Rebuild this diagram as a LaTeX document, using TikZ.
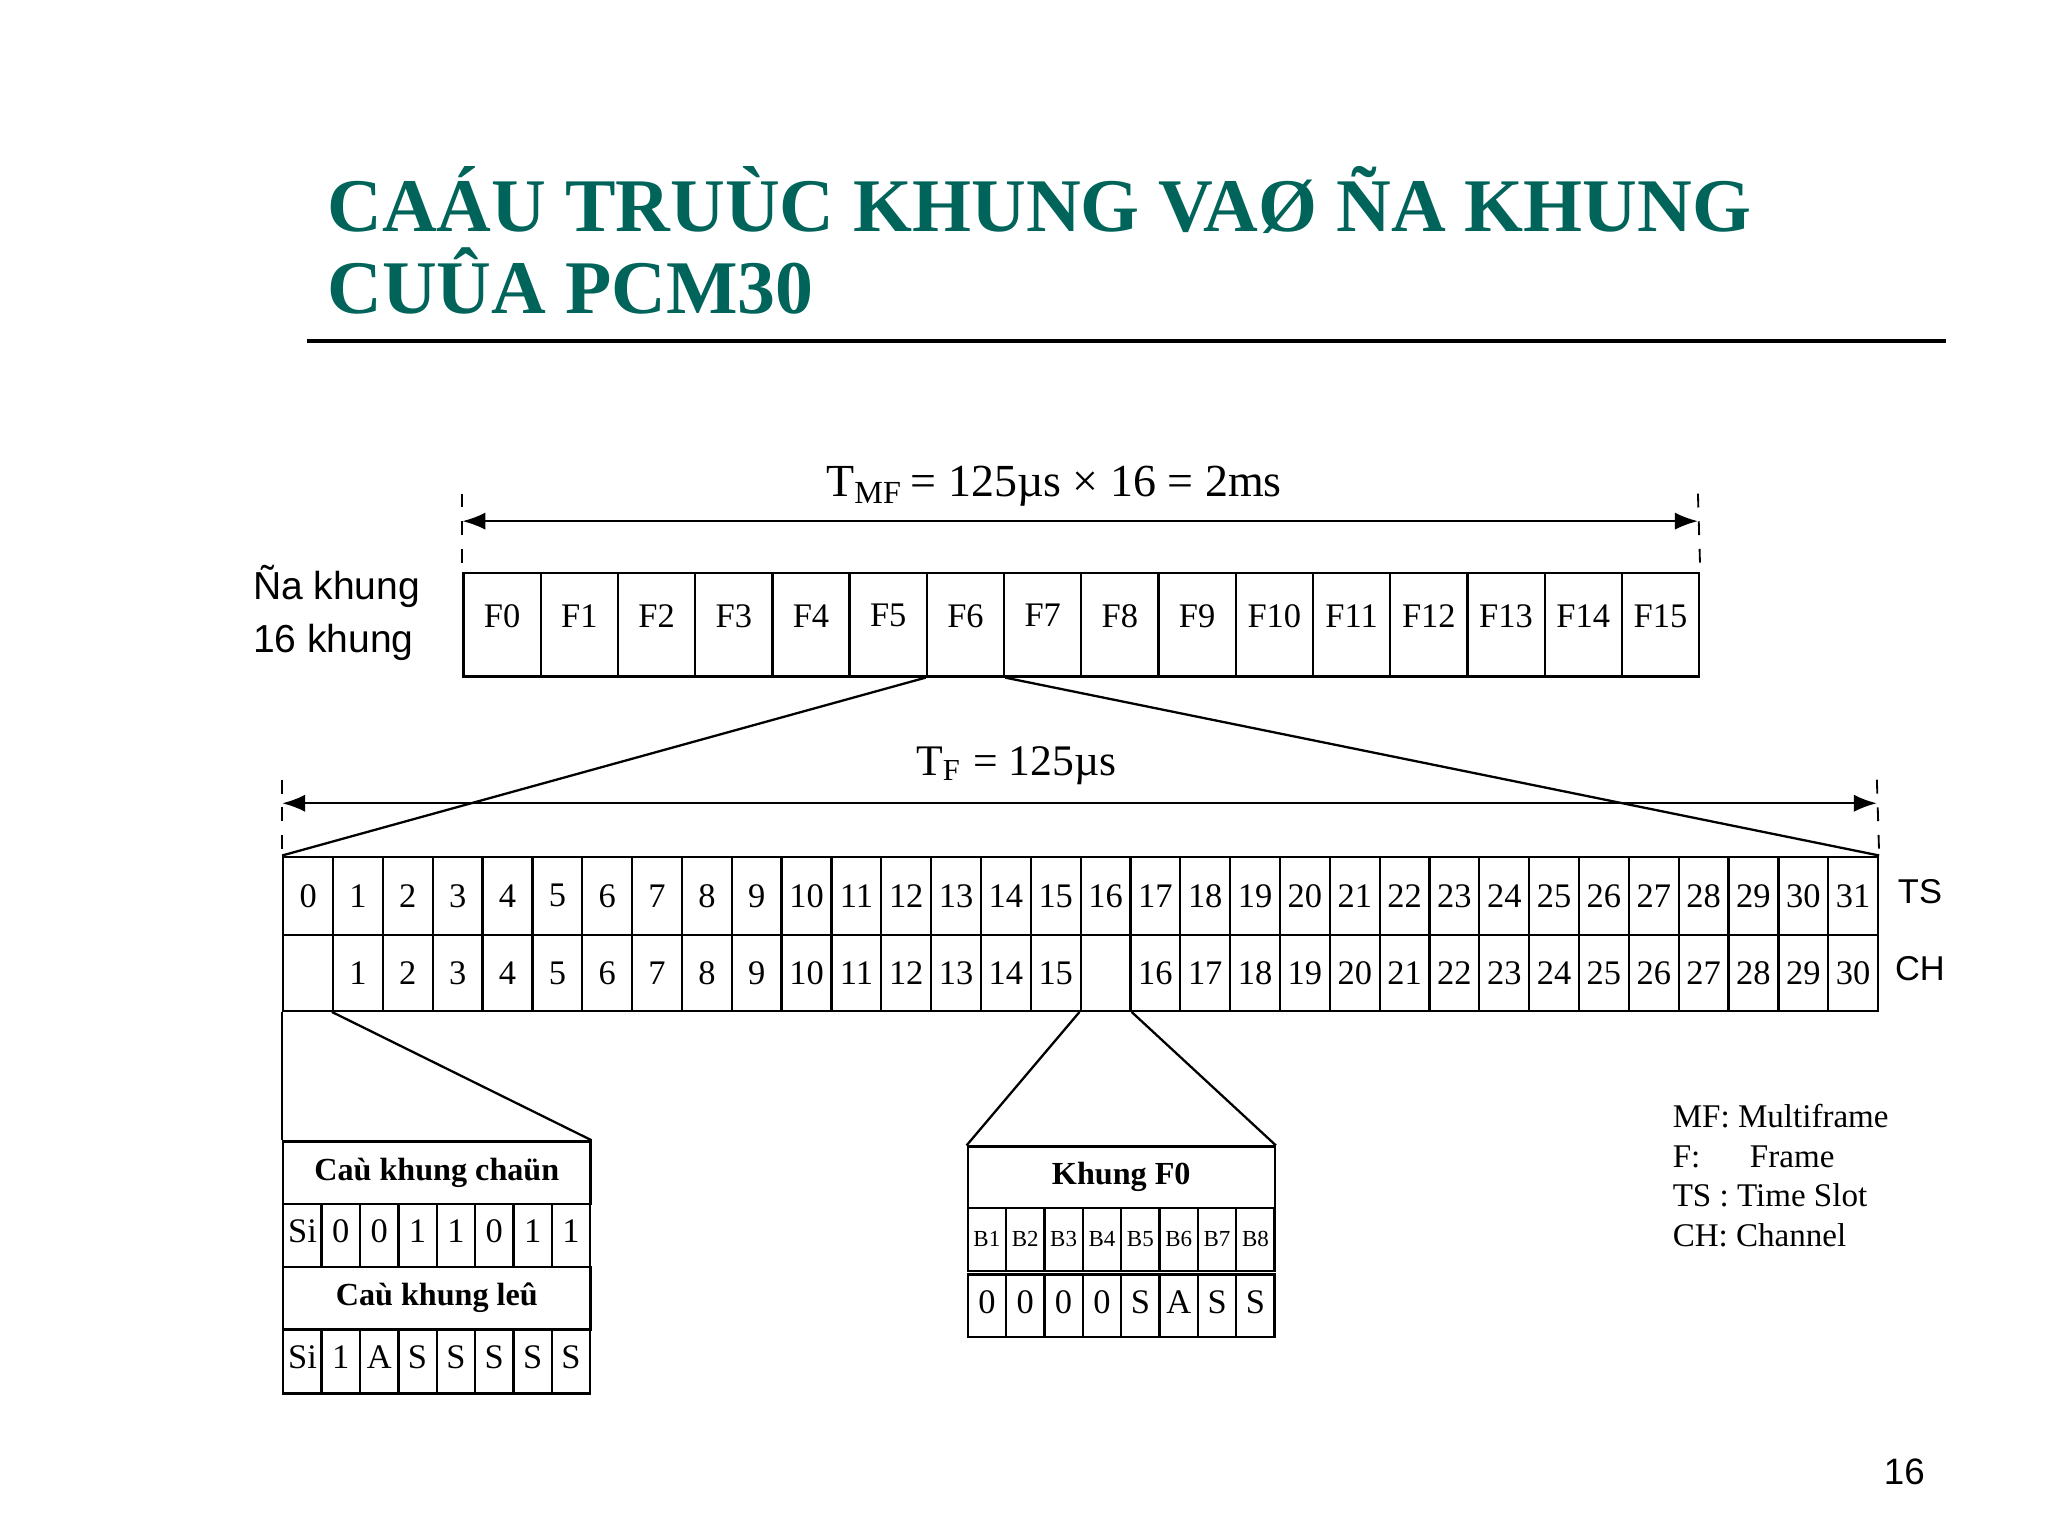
\documentclass[tikz,border=0pt]{standalone}
\usepackage{fontspec}
\setmainfont{Liberation Serif}
\setsansfont{Liberation Sans}
\usetikzlibrary{arrows.meta}
\definecolor{teal1}{RGB}{0,100,90}
\begin{document}
\begin{tikzpicture}[x=0.01cm,y=-0.01cm,
 cell/.style={draw,line width=0.5pt,anchor=north west,inner sep=0pt},
 txt/.style={font=\fontsize{7}{8}\selectfont},
 dim/.style={{Latex[length=5pt]}-{Latex[length=5pt]},line width=0.5pt},
 tick/.style={dashed,line width=0.4pt},
 conn/.style={line width=0.5pt}]
\useasboundingbox (0,0) rectangle (1568,1176);
% title
\node[anchor=west,inner sep=0pt,text=teal1,font=\bfseries\fontsize{16.5}{18}\selectfont] (t1) at (250,153) {CAÁU TRUÙC KHUNG VAØ ÑA KHUNG};
\node[anchor=west,inner sep=0pt,text=teal1,font=\bfseries\fontsize{16.5}{18}\selectfont] (t2) at (250,215) {CUÛA PCM30};
\draw[line width=0.7pt] (235,261) -- (1490,261);
% multiframe
\foreach \i in {0,...,15}{
 \pgfmathsetmacro\xx{354+\i*59.125}
 \node[cell,minimum width=59.125*0.01cm,minimum height=0.79cm,font=\fontsize{7.5}{8}\selectfont,text depth=0.14cm] (F\i) at (\xx,438) {F\i};
}
\draw[tick] (354,378) -- (F0.north west); \draw[tick] (1300,378) -- (F15.north east);
\draw[dim] (354,399) -- (1300,399);
\node[font=\fontsize{10}{12}\selectfont] (tmf) at (807,372) {T\textsubscript{MF}\,= 125µs × 16 = 2ms};
\node[font=\sffamily\fontsize{8.5}{11.5}\selectfont,align=left,anchor=west,inner sep=0pt] (nk) at (193,469) {Ña khung\\16 khung};
% frame
\foreach \i in {0,...,31}{
 \pgfmathsetmacro\xx{216+\i*38.156}
 \node[cell,minimum width=38.156*0.01cm,minimum height=0.60cm,font=\fontsize{7.5}{8}\selectfont] (T\i) at (\xx,655) {\i};
}
\foreach \i in {0,...,31}{
 \pgfmathsetmacro\xx{216+\i*38.156}
 \pgfmathtruncatemacro\ch{\i<16 ? \i : \i-1}
 \ifnum\i=0 \def\lab{}\else\ifnum\i=16 \def\lab{}\else\edef\lab{\ch}\fi\fi
 \node[cell,minimum width=38.156*0.01cm,minimum height=0.58cm,font=\fontsize{7.5}{8}\selectfont] (C\i) at (\xx,715) {\lab};
}
\draw[tick] (216,597) -- (T0.north west); \draw[tick] (1437,597) -- (T31.north east);
\draw[dim] (216,615) -- (1437,615);
\node[font=\fontsize{9.5}{12}\selectfont] (tf) at (778,586) {T\textsubscript{F} = 125µs};
\draw[conn] (F6.south west) -- (T0.north west);
\draw[conn] (F6.south east) -- (T31.north east);
\node[font=\sffamily\fontsize{7.5}{8}\selectfont] (ts) at (1470,683) {TS};
\node[font=\sffamily\fontsize{7.5}{8}\selectfont] (chl) at (1470,742) {CH};
% left detail
\node[cell,minimum width=2.35cm,minimum height=0.48cm,font=\bfseries\fontsize{7}{8}\selectfont] (h1) at (216,873) {Caù khung chaün};
\foreach \i/\b in {0/Si,1/0,2/0,3/1,4/1,5/0,6/1,7/1}{
 \pgfmathsetmacro\xx{216+\i*29.375}
 \node[cell,minimum width=0.29375cm,minimum height=0.48cm,font=\fontsize{7.5}{8}\selectfont,text depth=0.06cm] (a\i) at (\xx,921) {\b};
}
\node[cell,minimum width=2.35cm,minimum height=0.48cm,font=\bfseries\fontsize{7}{8}\selectfont] (h2) at (216,969) {Caù khung leû};
\foreach \i/\b in {0/Si,1/1,2/A,3/S,4/S,5/S,6/S,7/S}{
 \pgfmathsetmacro\xx{216+\i*29.375}
 \node[cell,minimum width=0.29375cm,minimum height=0.49cm,font=\fontsize{7.5}{8}\selectfont,text depth=0.06cm] (b\i) at (\xx,1017) {\b};
}
\draw[conn] (C0.south west) -- (h1.north west);
\draw[conn] (C1.south west) -- (h1.north east);
% middle detail
\node[cell,minimum width=2.35cm,minimum height=0.47cm,font=\bfseries\fontsize{7}{8}\selectfont] (k0) at (740,877) {Khung F0};
\foreach \i in {1,...,8}{
 \pgfmathsetmacro\xx{740+(\i-1)*29.375}
 \node[cell,minimum width=0.29375cm,minimum height=0.48cm,font=\fontsize{5}{6}\selectfont] (B\i) at (\xx,924) {B\i};
}
\foreach \i/\b in {1/0,2/0,3/0,4/0,5/S,6/A,7/S,8/S}{
 \pgfmathsetmacro\xx{740+(\i-1)*29.375}
 \node[cell,minimum width=0.29375cm,minimum height=0.48cm,font=\fontsize{7.5}{8}\selectfont,text depth=0.06cm] (z\i) at (\xx,975) {\b};
}
\draw[conn] (C16.south west) -- (k0.north west);
\draw[conn] (C16.south east) -- (k0.north east);
% legend
\node[anchor=north west,align=left,inner sep=0pt,font=\fontsize{7.2}{8.6}\selectfont] (leg) at (1280,845) {MF: Multiframe\\F:\quad\ \ Frame\\TS : Time Slot\\CH: Channel};
\node[font=\sffamily\fontsize{8}{9}\selectfont] (pg) at (1458,1127) {16};
\end{tikzpicture}
\end{document}
